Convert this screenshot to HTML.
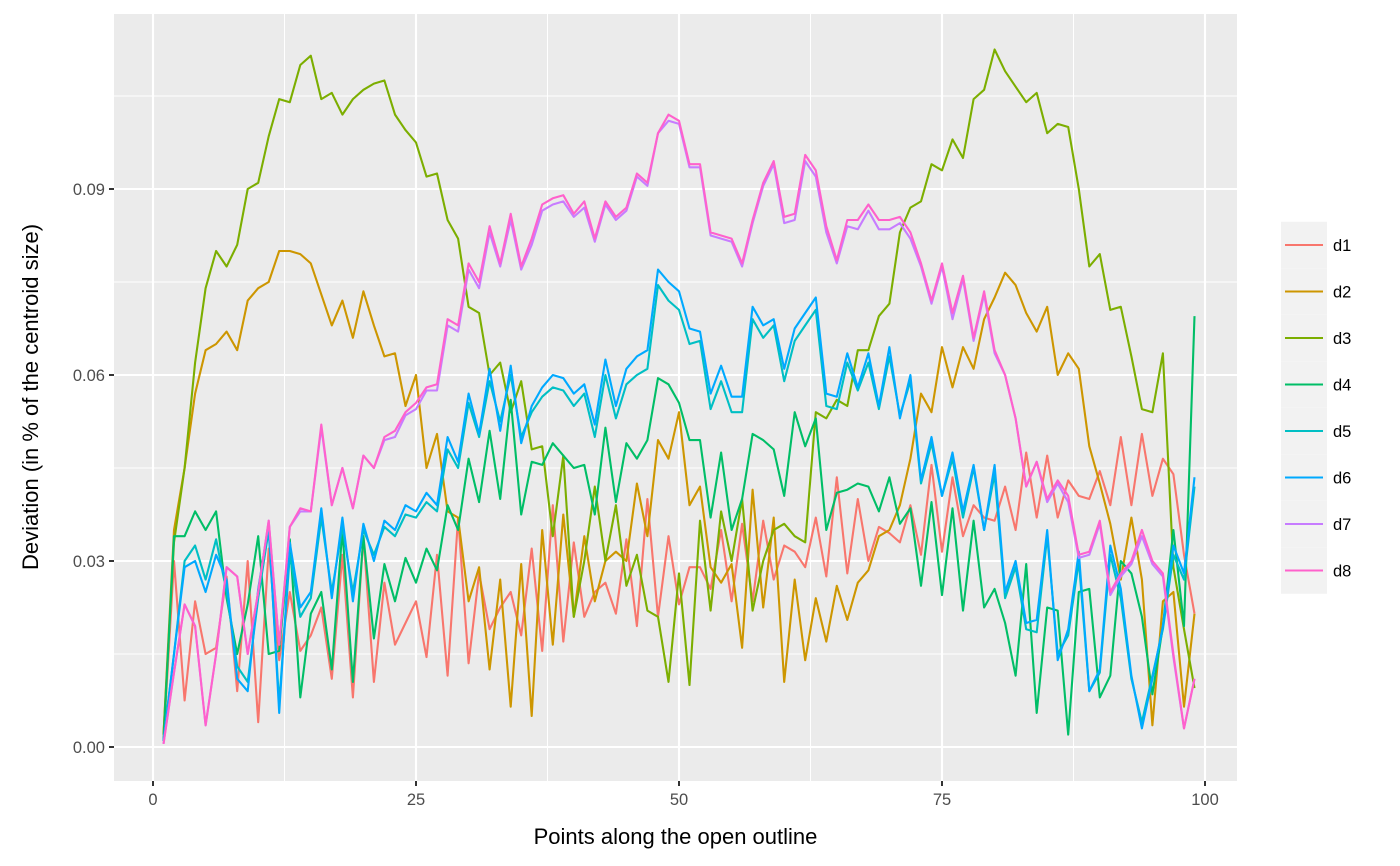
<!DOCTYPE html>
<html><head><meta charset="utf-8"><style>
body{margin:0;background:#fff;}
svg{display:block;font-family:"Liberation Sans","DejaVu Sans",sans-serif;}
</style></head><body>
<svg id="chart" width="1400" height="866"></svg>
<script>
const xs = Array.from({length:99},(_,i)=>i+1);
const seriesNames = ["d1","d2","d3","d4","d5","d6","d7","d8"];
const seriesColors = ["#F8766D","#CD9600","#7CAE00","#00BE67","#00BFC4","#00A9FF","#C77CFF","#FF61CC"];
const xTicks = [0,25,50,75,100];
const yTicks = [0,0.03,0.06,0.09];
const yTickLabels = ["0.00","0.03","0.06","0.09"];
const d1 = [0.001,0.030,0.0075,0.0235,0.015,0.016,0.0275,0.009,0.030,0.004,0.032,0.014,0.025,0.0155,0.018,0.0225,0.011,0.031,0.008,0.034,0.0105,0.0265,0.0165,0.020,0.0235,0.0145,0.031,0.0115,0.037,0.0135,0.028,0.019,0.0225,0.025,0.018,0.032,0.0155,0.039,0.017,0.033,0.021,0.025,0.0265,0.0215,0.0335,0.0195,0.040,0.021,0.034,0.023,0.029,0.029,0.0255,0.035,0.0235,0.036,0.0235,0.0365,0.027,0.0325,0.0315,0.029,0.037,0.0275,0.0435,0.028,0.040,0.030,0.0355,0.0345,0.033,0.039,0.031,0.0455,0.0315,0.0435,0.034,0.039,0.037,0.0365,0.042,0.035,0.0475,0.037,0.047,0.037,0.043,0.0405,0.040,0.0445,0.039,0.050,0.039,0.0505,0.0405,0.0465,0.044,0.031,0.0215];
const d2 = [0.002,0.035,0.045,0.057,0.064,0.065,0.067,0.064,0.072,0.074,0.075,0.080,0.080,0.0795,0.078,0.073,0.068,0.072,0.066,0.0735,0.068,0.063,0.0635,0.055,0.060,0.045,0.0505,0.038,0.037,0.0235,0.029,0.0125,0.027,0.0065,0.0295,0.005,0.035,0.0165,0.0375,0.021,0.034,0.0235,0.030,0.0315,0.030,0.0425,0.034,0.0495,0.0465,0.054,0.039,0.042,0.029,0.0265,0.0295,0.016,0.0415,0.0225,0.037,0.0105,0.027,0.014,0.024,0.017,0.026,0.0205,0.0265,0.0285,0.034,0.035,0.039,0.0465,0.057,0.054,0.0645,0.058,0.0645,0.061,0.069,0.0725,0.0765,0.0745,0.070,0.067,0.071,0.060,0.0635,0.061,0.0485,0.0425,0.036,0.027,0.037,0.027,0.0035,0.0235,0.025,0.0065,0.0215];
const d3 = [0.002,0.033,0.045,0.062,0.074,0.080,0.0775,0.081,0.090,0.091,0.0985,0.1045,0.104,0.110,0.1115,0.1045,0.1055,0.102,0.1045,0.106,0.107,0.1075,0.102,0.0995,0.0975,0.092,0.0925,0.085,0.082,0.071,0.070,0.060,0.062,0.054,0.059,0.048,0.0485,0.034,0.047,0.021,0.030,0.042,0.030,0.039,0.026,0.031,0.022,0.021,0.0105,0.028,0.010,0.0365,0.022,0.038,0.030,0.040,0.022,0.030,0.035,0.036,0.034,0.033,0.054,0.053,0.056,0.055,0.064,0.064,0.0695,0.0715,0.083,0.087,0.088,0.094,0.093,0.098,0.095,0.1045,0.106,0.1125,0.109,0.1065,0.104,0.1055,0.099,0.1005,0.100,0.090,0.0775,0.0795,0.0705,0.071,0.063,0.0545,0.054,0.0635,0.029,0.019,0.0095];
const d4 = [0.001,0.034,0.034,0.038,0.035,0.038,0.024,0.015,0.023,0.034,0.015,0.0155,0.0335,0.008,0.0215,0.025,0.0125,0.035,0.0105,0.034,0.0175,0.0295,0.0235,0.0305,0.0265,0.032,0.0285,0.039,0.035,0.0465,0.0395,0.051,0.040,0.056,0.0375,0.046,0.0455,0.049,0.047,0.045,0.0455,0.0375,0.0515,0.0395,0.049,0.0465,0.0495,0.0595,0.0585,0.0555,0.0495,0.0495,0.037,0.0475,0.035,0.040,0.0505,0.0495,0.048,0.0405,0.054,0.0485,0.053,0.035,0.041,0.0415,0.0425,0.042,0.038,0.0435,0.036,0.0385,0.026,0.0395,0.0245,0.0385,0.022,0.0365,0.0225,0.0255,0.020,0.0115,0.0295,0.0055,0.0225,0.022,0.002,0.025,0.0255,0.008,0.0115,0.030,0.028,0.021,0.0085,0.0195,0.035,0.0195,0.0695];
const d5 = [0.001,0.015,0.030,0.0325,0.027,0.0335,0.025,0.013,0.0105,0.024,0.035,0.007,0.031,0.021,0.024,0.037,0.025,0.0355,0.025,0.035,0.031,0.0355,0.034,0.0375,0.037,0.0395,0.038,0.048,0.045,0.0555,0.050,0.059,0.0525,0.060,0.050,0.054,0.0565,0.058,0.0575,0.055,0.057,0.050,0.060,0.053,0.0585,0.060,0.061,0.0745,0.072,0.0705,0.065,0.0655,0.0545,0.059,0.054,0.054,0.069,0.066,0.068,0.059,0.0655,0.068,0.0705,0.055,0.0545,0.062,0.0575,0.062,0.0545,0.063,0.0535,0.059,0.0425,0.049,0.0405,0.0465,0.037,0.045,0.035,0.044,0.024,0.029,0.019,0.0185,0.034,0.015,0.018,0.030,0.009,0.012,0.031,0.024,0.011,0.004,0.0115,0.019,0.031,0.027,0.042];
const d6 = [0.001,0.015,0.029,0.030,0.025,0.031,0.027,0.011,0.009,0.0255,0.036,0.0055,0.033,0.0225,0.025,0.0385,0.024,0.037,0.0235,0.036,0.030,0.0365,0.035,0.039,0.038,0.041,0.039,0.050,0.046,0.057,0.0505,0.061,0.051,0.0615,0.049,0.055,0.058,0.060,0.0595,0.057,0.0585,0.052,0.0625,0.055,0.061,0.063,0.064,0.077,0.075,0.0735,0.0675,0.067,0.057,0.0615,0.0565,0.0565,0.071,0.068,0.069,0.061,0.0675,0.070,0.0725,0.057,0.0565,0.0635,0.058,0.0635,0.055,0.0645,0.053,0.060,0.043,0.050,0.0405,0.0475,0.038,0.0455,0.035,0.0455,0.025,0.030,0.020,0.0205,0.035,0.014,0.019,0.0315,0.009,0.0125,0.0325,0.0255,0.0115,0.003,0.011,0.0195,0.0325,0.028,0.0435];
const d7 = [0.0005,0.012,0.023,0.0195,0.0035,0.015,0.029,0.0275,0.015,0.025,0.0365,0.0165,0.0355,0.038,0.038,0.0515,0.039,0.045,0.0385,0.047,0.045,0.0495,0.050,0.0535,0.0545,0.0575,0.0575,0.068,0.067,0.077,0.074,0.083,0.0775,0.085,0.077,0.081,0.0865,0.0875,0.088,0.0855,0.087,0.0815,0.0875,0.085,0.0865,0.092,0.0905,0.099,0.101,0.1005,0.0935,0.0935,0.0825,0.082,0.0815,0.0775,0.0845,0.0905,0.094,0.0845,0.085,0.0945,0.092,0.083,0.078,0.084,0.0835,0.0865,0.0835,0.0835,0.0845,0.082,0.0775,0.0715,0.0775,0.069,0.0755,0.0655,0.073,0.0635,0.060,0.053,0.042,0.046,0.0395,0.0425,0.0395,0.0305,0.031,0.036,0.0245,0.0275,0.0295,0.034,0.0295,0.0275,0.0145,0.003,0.011];
const d8 = [0.0005,0.012,0.023,0.0195,0.0035,0.015,0.029,0.0275,0.015,0.025,0.0365,0.0165,0.0355,0.0385,0.038,0.052,0.039,0.045,0.0385,0.047,0.045,0.050,0.051,0.054,0.0555,0.058,0.0585,0.069,0.068,0.078,0.075,0.084,0.078,0.086,0.0775,0.082,0.0875,0.0885,0.089,0.086,0.088,0.082,0.088,0.0855,0.087,0.0925,0.091,0.099,0.102,0.101,0.094,0.094,0.083,0.0825,0.082,0.078,0.085,0.091,0.0945,0.0855,0.086,0.0955,0.093,0.084,0.0785,0.085,0.085,0.0875,0.085,0.085,0.0855,0.083,0.078,0.072,0.078,0.070,0.076,0.066,0.0735,0.064,0.060,0.053,0.042,0.046,0.040,0.043,0.0405,0.031,0.0315,0.0365,0.025,0.028,0.030,0.035,0.030,0.028,0.015,0.003,0.011];
const seriesData = [d1,d2,d3,d4,d5,d6,d7,d8];

const NS="http://www.w3.org/2000/svg";
const svg=document.getElementById('chart');
const P={l:114,r:1237,t:14,b:781};
const xS=v=>153+(v-0)*(1205-153)/100;
const yS=v=>747-v*6200;
function mk(tag,attrs,parent){const e=document.createElementNS(NS,tag);for(const k in attrs)e.setAttribute(k,attrs[k]);(parent||svg).appendChild(e);return e;}

const panel=mk('rect',{x:P.l,y:P.t,width:P.r-P.l,height:P.b-P.t,fill:'#EBEBEB'});


const grid=mk('g',{});


for(let i=0;i<yTicks.length;i++){
  const m=yTicks[i]+0.015;
  if(yS(m)>P.t) mk('line',{x1:P.l,x2:P.r,y1:yS(m),y2:yS(m),stroke:'#fff','stroke-width':1},grid);
}
for(let i=0;i<xTicks.length-1;i++){
  const m=xTicks[i]+12.5;
  mk('line',{x1:xS(m),x2:xS(m),y1:P.t,y2:P.b,stroke:'#fff','stroke-width':1},grid);
}
yTicks.forEach(v=>mk('line',{x1:P.l,x2:P.r,y1:yS(v),y2:yS(v),stroke:'#fff','stroke-width':2.1},grid));
xTicks.forEach(v=>mk('line',{x1:xS(v),x2:xS(v),y1:P.t,y2:P.b,stroke:'#fff','stroke-width':2.1},grid));

const lines=mk('g',{});


seriesData.forEach((arr,si)=>{
  const d=arr.map((v,i)=>(i?'L':'M')+xS(xs[i]).toFixed(1)+','+yS(v).toFixed(1)).join('');
  const p=mk('path',{d:d,fill:'none',stroke:seriesColors[si],'stroke-width':2.1,'stroke-linejoin':'round'},lines);
  
  
});

const ax=mk('g',{});


yTicks.forEach((v,i)=>{
  mk('line',{x1:P.l-5,x2:P.l,y1:yS(v),y2:yS(v),stroke:'#333','stroke-width':2},ax);
  const t=mk('text',{x:P.l-9,y:yS(v)+6,'text-anchor':'end','font-size':'16.5',fill:'#4D4D4D'},ax);
  t.textContent=yTickLabels[i];
  
  
});
xTicks.forEach(v=>{
  mk('line',{x1:xS(v),x2:xS(v),y1:P.b,y2:P.b+5,stroke:'#333','stroke-width':2},ax);
  const t=mk('text',{x:xS(v),y:P.b+24,'text-anchor':'middle','font-size':'16.5',fill:'#4D4D4D'},ax);
  t.textContent=String(v);
  
  
});
const xt=mk('text',{x:(P.l+P.r)/2,y:844,'text-anchor':'middle','font-size':'22',fill:'#000'});
xt.textContent='Points along the open outline';


const yt=mk('text',{x:0,y:0,transform:'translate(38,397) rotate(-90)','text-anchor':'middle','font-size':'22',fill:'#000'});
yt.textContent='Deviation (in % of the centroid size)';



const lg=mk('g',{});


seriesNames.forEach((n,i)=>{
  const cy=245+i*46.5;
  const e=mk('g',{},lg);
  
  
  mk('rect',{x:1281,y:cy-23.25,width:46,height:46.5,fill:'#F2F2F2'},e);
  mk('line',{x1:1285,x2:1323,y1:cy,y2:cy,stroke:seriesColors[i],'stroke-width':2.1},e);
  const t=mk('text',{x:1333,y:cy+6,'font-size':'16.5',fill:'#000'},e);
  t.textContent=n;
});
</script>
</body></html>
